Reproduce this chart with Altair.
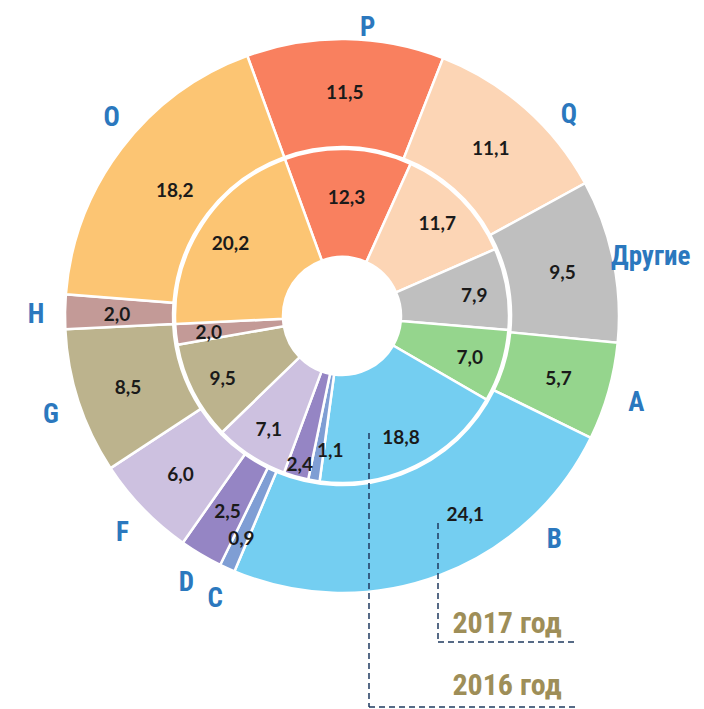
import math
import altair as alt
import pandas as pd

# ---------------- data ----------------
categories = ["P", "Q", "Другие", "A", "B", "C", "D", "F", "G", "H", "O"]
values_2017 = [11.5, 11.1, 9.5, 5.7, 24.1, 0.9, 2.5, 6.0, 8.5, 2.0, 18.2]   # outer ring
values_2016 = [12.3, 11.7, 7.9, 7.0, 18.8, 1.1, 2.4, 7.1, 9.5, 2.0, 20.2]   # inner ring
colors = ["#F9805F", "#FCD5B5", "#BFBFBF", "#95D58D", "#74CEF1", "#7F9ED4",
          "#9585C4", "#CDC1E0", "#BCB38D", "#C39A97", "#FCC573"]
year_labels = ["2017 год", "2016 год"]


def fmt(v):
    return f"{v:.1f}".replace(".", ",")


df17 = pd.DataFrame({"cat": categories, "value": values_2017,
                     "idx": list(range(len(categories))),
                     "label": [fmt(v) for v in values_2017]})
df16 = pd.DataFrame({"cat": categories, "value": values_2016,
                     "idx": list(range(len(categories))),
                     "label": [fmt(v) for v in values_2016]})

# ---------------- layout ----------------
CX, CY = 334, 308
START = 2 * math.pi - math.radians(20)
theta_scale = alt.Scale(domain=[0, 100], range=[START, START + 2 * math.pi])
color_scale = alt.Scale(domain=categories, range=colors)

VALUE_FONT = "Lato, Open Sans, sans-serif"
COND_FONT = "Roboto Condensed, Roboto, sans-serif"
BLUE = "#2B78BE"
OLIVE = "#9E8E58"
NAVY = "#1F3A5F"

# small angular nudges (in % units) and radii for labels, as placed in the original
letter_nudge = {"P": 1.2, "Q": 1.8, "B": -6.5, "O": 1.1}
outer_value_nudge = {"B": -3.2}
inner_value_nudge = {"C": -1.3}


def pick_expr(table, default):
    expr = str(default)
    for k, v in table.items():
        expr = f"(datum.cat === '{k}' ? {v} : {expr})"
    return expr


def ring(df, r0, r1):
    return alt.Chart(df).mark_arc(
        innerRadius=r0, outerRadius=r1, stroke="white", strokeWidth=2.5
    ).encode(
        theta=alt.Theta("value:Q", stack=True, scale=theta_scale),
        color=alt.Color("cat:N", scale=color_scale, legend=None),
        order=alt.Order("idx:Q"),
        x=alt.value(CX),
        y=alt.value(CY),
    )


def labels(df, nudges, radii, default_r):
    return alt.Chart(df).transform_window(
        cum="sum(value)", sort=[alt.SortField("idx")], frame=[None, 0]
    ).transform_calculate(
        mid=f"datum.cum - datum.value / 2 + {pick_expr(nudges, 0)}",
        rad=pick_expr(radii, default_r),
    )


def polar_enc(text_field):
    return dict(
        theta=alt.Theta("mid:Q", stack=False, scale=theta_scale),
        radius=alt.Radius("rad:Q", scale=None),
        text=alt.Text(text_field),
        x=alt.value(CX), y=alt.value(CY),
    )


inner_ring = ring(df16, 59, 167)
outer_ring = ring(df17, 169, 277)

value_style = dict(font=VALUE_FONT, fontSize=19, fontWeight="bold",
                   color="#1A1A1A", align="center", baseline="middle", dy=2)

inner_vals = labels(df16, inner_value_nudge, {"P": 120, "D": 153}, 134).mark_text(
    **value_style).encode(**polar_enc("label:N"))

outer_vals = labels(df17, outer_value_nudge, {"O": 210, "B": 232, "C": 243}, 225).mark_text(
    **value_style).encode(**polar_enc("label:N"))

letters = labels(df17, letter_nudge, {"P": 293, "Другие": 315}, 306).mark_text(
    font=COND_FONT, fontSize=27, fontWeight="bold", color=BLUE,
    align="center", baseline="middle", dy=4
).encode(**polar_enc("cat:N"))

one = pd.DataFrame({"k": [0]})
dash = dict(color=NAVY, strokeWidth=1.5, strokeDash=[6, 4])

v2017 = alt.Chart(one).mark_rule(**dash).encode(
    x=alt.value(430), y=alt.value(515), y2=alt.value(634))
h2017 = alt.Chart(one).mark_rule(**dash).encode(
    x=alt.value(430), x2=alt.value(569), y=alt.value(634))
v2016 = alt.Chart(one).mark_rule(**dash).encode(
    x=alt.value(361), y=alt.value(425), y2=alt.value(699))
h2016 = alt.Chart(one).mark_rule(**dash).encode(
    x=alt.value(361), x2=alt.value(570), y=alt.value(699))

years = pd.DataFrame({"t": year_labels, "yy": [625, 687]})
year_text = alt.Chart(years).mark_text(
    font=COND_FONT, fontSize=30, fontWeight="bold", color=OLIVE,
    align="center", baseline="alphabetic"
).encode(
    text="t:N", x=alt.value(499), y=alt.Y("yy:Q", scale=None),
)

chart = alt.layer(
    inner_ring, outer_ring, inner_vals, outer_vals, letters,
    v2017, h2017, v2016, h2016, year_text
).properties(
    width=688, height=701, padding=0, autosize="none"
).configure_view(stroke=None)

chart.save("out.html", embed_options={"renderer": "svg", "actions": False})
